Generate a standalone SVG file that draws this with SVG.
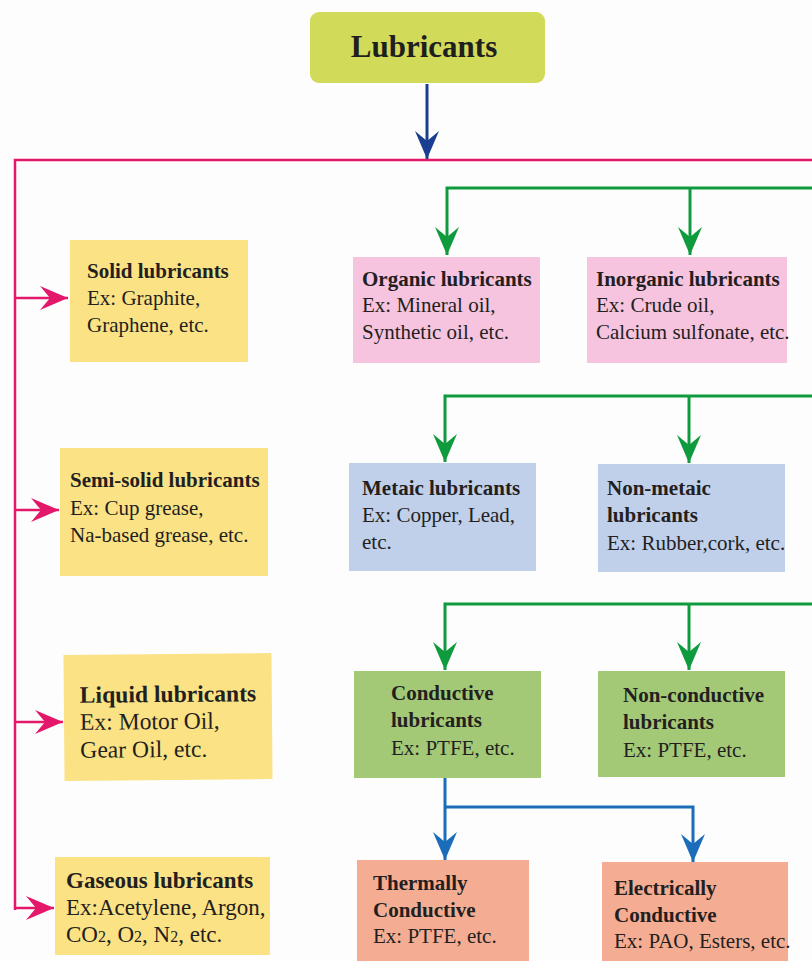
<svg xmlns="http://www.w3.org/2000/svg" width="812" height="961" viewBox="0 0 812 961">
<style>
.t{font-family:'Liberation Serif','Times New Roman',serif;font-size:21px;fill:#231f20}
.b{font-weight:bold}
.title{font-family:'Liberation Serif','Times New Roman',serif;font-size:31px;font-weight:bold;fill:#1f1f1f}
.y{fill:#fbe285}.p{fill:#f6c4df}.bl{fill:#c0cfea}.g{fill:#a3c977}.s{fill:#f4ad93}
.cp{fill:none;stroke:#e3186a;stroke-width:2.5}
.cg{fill:none;stroke:#0f9a3e;stroke-width:3}
.cb{fill:none;stroke:#1b6dba;stroke-width:3}
.cd{fill:none;stroke:#1b3f90;stroke-width:3}
</style>
<defs>
<marker id="ap" markerUnits="userSpaceOnUse" markerWidth="30" markerHeight="24" refX="28" refY="12" orient="auto"><path d="M0,0 L28,12 L0,24 L10,12 Z" fill="#e3186a"/></marker>
<marker id="ag" markerUnits="userSpaceOnUse" markerWidth="30" markerHeight="24" refX="28" refY="12" orient="auto"><path d="M0,0 L28,12 L0,24 L10,12 Z" fill="#0f9a3e"/></marker>
<marker id="ab" markerUnits="userSpaceOnUse" markerWidth="30" markerHeight="24" refX="28" refY="12" orient="auto"><path d="M0,0 L28,12 L0,24 L10,12 Z" fill="#1b6dba"/></marker>
<marker id="ad" markerUnits="userSpaceOnUse" markerWidth="30" markerHeight="24" refX="28" refY="12" orient="auto"><path d="M0,0 L28,12 L0,24 L10,12 Z" fill="#1b3f90"/></marker>
</defs>
<rect width="812" height="961" fill="#fdfdfd"/>
<g id="connectors">
<path class="cd" d="M427,84 L427,159" marker-end="url(#ad)"/>
<path class="cp" d="M812,160 L15,160 L15,910"/>
<path class="cp" d="M15,298 L68,298" marker-end="url(#ap)"/>
<path class="cp" d="M15,510 L59,510" marker-end="url(#ap)"/>
<path class="cp" d="M15,722 L63,722" marker-end="url(#ap)"/>
<path class="cp" d="M14,908 L54,908" marker-end="url(#ap)"/>
<path class="cg" d="M812,188 L447,188 L447,255" marker-end="url(#ag)"/>
<path class="cg" d="M690,188 L690,255" marker-end="url(#ag)"/>
<path class="cg" d="M812,396 L445,396 L445,462" marker-end="url(#ag)"/>
<path class="cg" d="M689,396 L689,463" marker-end="url(#ag)"/>
<path class="cg" d="M812,604 L445,604 L445,670" marker-end="url(#ag)"/>
<path class="cg" d="M689,604 L689,670" marker-end="url(#ag)"/>
<path class="cb" d="M445,778 L445,860" marker-end="url(#ab)"/>
<path class="cb" d="M445,807 L693,807 L693,862" marker-end="url(#ab)"/>
</g>
<g id="lubricants">
<rect x="310" y="12" width="235" height="71" rx="9" fill="#d2da5a"/>
<text class="title" x="424" y="57" text-anchor="middle">Lubricants</text>
</g>
<g id="solid">
<rect class="y" x="70" y="240" width="178" height="122"/>
<text class="t" x="87" y="278"><tspan class="b">Solid lubricants</tspan><tspan x="87" y="305">Ex: Graphite,</tspan><tspan x="87" y="332">Graphene, etc.</tspan></text>
</g>
<g id="semisolid">
<rect class="y" x="60" y="448" width="208" height="128"/>
<text class="t" x="70" y="487"><tspan class="b">Semi-solid lubricants</tspan><tspan x="70" y="515">Ex: Cup grease,</tspan><tspan x="70" y="542">Na-based grease, etc.</tspan></text>
</g>
<g id="liquid" transform="rotate(-0.5 168 717)">
<rect class="y" x="64" y="654" width="208" height="126"/>
<text class="t" x="80" y="702" style="font-size:23.6px"><tspan class="b">Liquid lubricants</tspan><tspan x="80" y="729">Ex: Motor Oil,</tspan><tspan x="80" y="757">Gear Oil, etc.</tspan></text>
</g>
<g id="gaseous">
<rect class="y" x="55" y="857" width="215" height="98"/>
<text class="t" x="66" y="888" style="font-size:23px"><tspan class="b">Gaseous lubricants</tspan><tspan x="66" y="915">Ex:Acetylene, Argon,</tspan><tspan x="66" y="942">CO<tspan style="font-size:16px">2</tspan>, O<tspan style="font-size:16px">2</tspan>, N<tspan style="font-size:16px">2</tspan>, etc.</tspan></text>
</g>
<g id="organic">
<rect class="p" x="353" y="257" width="187" height="106"/>
<text class="t" x="362" y="286"><tspan class="b">Organic lubricants</tspan><tspan x="362" y="312">Ex: Mineral oil,</tspan><tspan x="362" y="339">Synthetic oil, etc.</tspan></text>
</g>
<g id="inorganic">
<rect class="p" x="587" y="257" width="200" height="106"/>
<text class="t" x="596" y="286"><tspan class="b">Inorganic lubricants</tspan><tspan x="596" y="312">Ex: Crude oil,</tspan><tspan x="596" y="339">Calcium sulfonate, etc.</tspan></text>
</g>
<g id="metaic">
<rect class="bl" x="349" y="463" width="187" height="108"/>
<text class="t" x="362" y="495"><tspan class="b">Metaic lubricants</tspan><tspan x="362" y="522">Ex: Copper, Lead,</tspan><tspan x="362" y="549">etc.</tspan></text>
</g>
<g id="nonmetaic">
<rect class="bl" x="598" y="464" width="187" height="108"/>
<text class="t" x="607" y="495"><tspan class="b">Non-metaic</tspan><tspan class="b" x="607" y="522">lubricants</tspan><tspan x="607" y="550">Ex: Rubber,cork, etc.</tspan></text>
</g>
<g id="conductive">
<rect class="g" x="354" y="671" width="187" height="107"/>
<text class="t" x="391" y="700"><tspan class="b">Conductive</tspan><tspan class="b" x="391" y="727">lubricants</tspan><tspan x="391" y="755">Ex: PTFE, etc.</tspan></text>
</g>
<g id="nonconductive">
<rect class="g" x="598" y="671" width="187" height="106"/>
<text class="t" x="623" y="702"><tspan class="b">Non-conductive</tspan><tspan class="b" x="623" y="729">lubricants</tspan><tspan x="623" y="757">Ex: PTFE, etc.</tspan></text>
</g>
<g id="thermally">
<rect class="s" x="357" y="860" width="172" height="101"/>
<text class="t" x="373" y="890"><tspan class="b">Thermally</tspan><tspan class="b" x="373" y="917">Conductive</tspan><tspan x="373" y="943">Ex: PTFE, etc.</tspan></text>
</g>
<g id="electrically">
<rect class="s" x="602" y="862" width="186" height="99"/>
<text class="t" x="614" y="895"><tspan class="b">Electrically</tspan><tspan class="b" x="614" y="922">Conductive</tspan><tspan x="614" y="948">Ex: PAO, Esters, etc.</tspan></text>
</g>
</svg>
